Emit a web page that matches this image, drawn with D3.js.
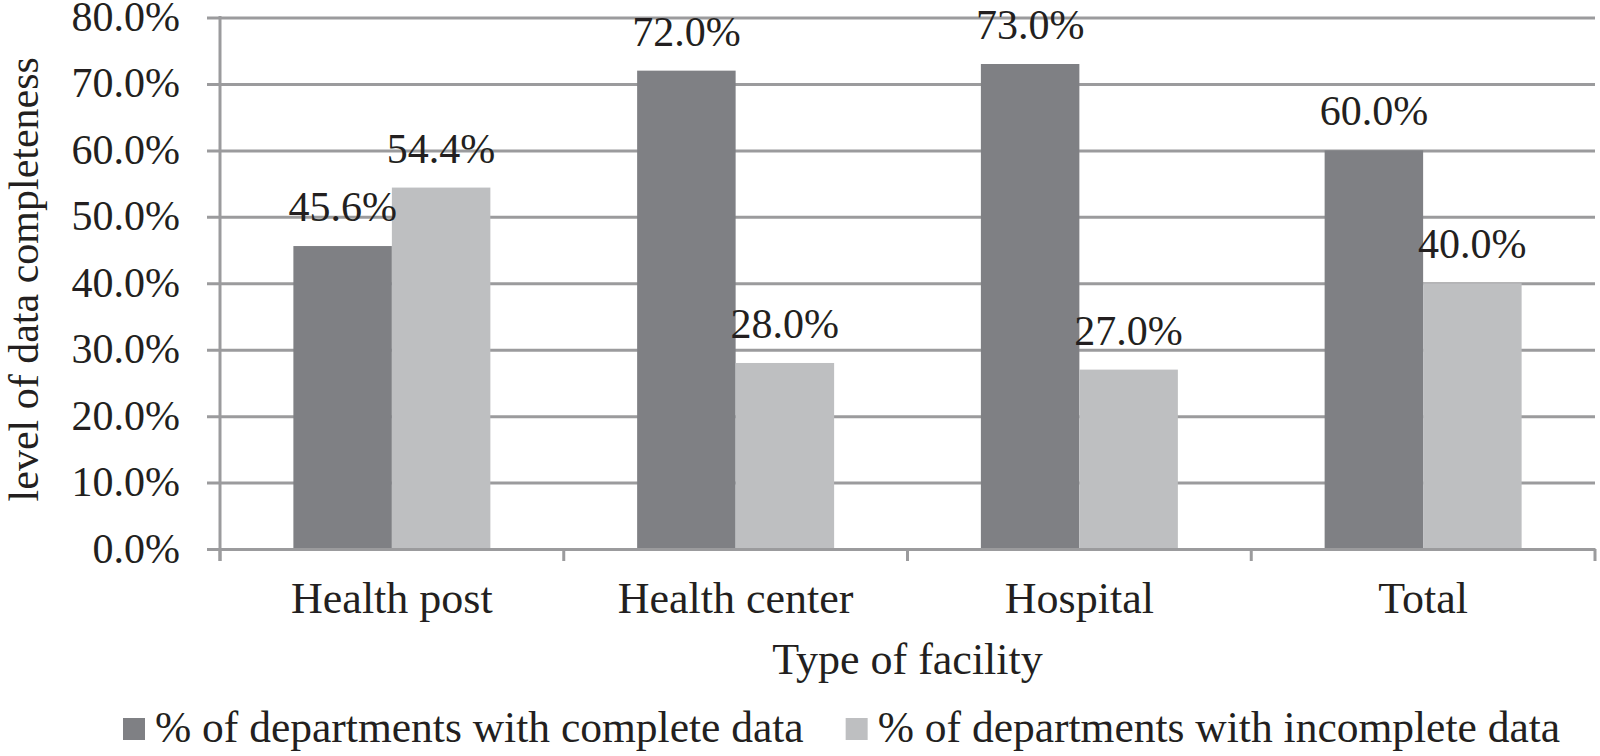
<!DOCTYPE html>
<html>
<head>
<meta charset="utf-8">
<script src="https://cdn.jsdelivr.net/npm/d3@7"></script>
<style>
  html, body { margin: 0; padding: 0; background: #fff; }
  svg { display: block; font-family: "Liberation Serif", "Times New Roman", serif; }
</style>
</head>
<body>
<svg id="chart" width="1600" height="756"></svg>
<script>
// data
const categories = ["Health post", "Health center", "Hospital", "Total"];
const seriesNames = ["% of departments with complete data", "% of departments with incomplete data"];
const completeData = [0.456, 0.72, 0.73, 0.60];
const incompleteData = [0.544, 0.28, 0.27, 0.40];
const yTicks = [0, 0.1, 0.2, 0.3, 0.4, 0.5, 0.6, 0.7, 0.8];

const colors = { complete: "#7f8084", incomplete: "#bebfc1" };
const gridColor = "#9b9b9d";
const textColor = "#231f20";
const numSize = 42;   // tick + data labels
const labelSize = 44; // category, x title
const yTitleSize = 42;
const legendSize = 43.5;

const plot = { left: 220, right: 1595, top: 17.5, bottom: 549 };

const svg = d3.select("#chart");

const x0 = d3.scaleBand()
  .domain(categories)
  .range([plot.left, plot.right])
  .padding(0);

const x1 = d3.scaleBand()
  .domain(["complete", "incomplete"])
  .range([0, x0.bandwidth()])
  .paddingInner(0)
  .paddingOuter(0.745);

const y = d3.scaleLinear()
  .domain([0, 0.8])
  .range([plot.bottom, plot.top]);

const fmt = d3.format(".1%");

// horizontal grid lines + y ticks
const yAxis = svg.append("g")
  .attr("transform", `translate(${plot.left},0)`)
  .call(
    d3.axisLeft(y)
      .tickValues(yTicks)
      .tickSize(-(plot.right - plot.left))
      .tickSizeOuter(0)
      .tickFormat(() => "")
  );
yAxis.select(".domain").remove();
yAxis.selectAll("line")
  .attr("x1", -13)
  .attr("stroke", gridColor)
  .attr("stroke-width", 3);

// y tick labels
svg.append("g")
  .selectAll("text")
  .data(yTicks)
  .join("text")
  .attr("x", 180)
  .attr("y", d => y(d) + 13.5)
  .attr("text-anchor", "end")
  .attr("fill", textColor)
  .style("font-size", numSize + "px")
  .text(d => fmt(d));

// bars
const rows = categories.map((c, i) => ({
  category: c,
  values: [
    { key: "complete", value: completeData[i] },
    { key: "incomplete", value: incompleteData[i] }
  ]
}));

const groups = svg.append("g")
  .selectAll("g")
  .data(rows)
  .join("g")
  .attr("transform", d => `translate(${x0(d.category)},0)`);

groups.selectAll("rect")
  .data(d => d.values)
  .join("rect")
  .attr("x", d => x1(d.key))
  .attr("y", d => y(d.value))
  .attr("width", x1.bandwidth())
  .attr("height", d => y(0) - y(d.value))
  .attr("fill", d => colors[d.key]);

// data labels
groups.selectAll("text")
  .data(d => d.values)
  .join("text")
  .attr("x", d => x1(d.key) + x1.bandwidth() / 2)
  .attr("y", d => y(d.value) - 25)
  .attr("text-anchor", "middle")
  .attr("fill", textColor)
  .style("font-size", numSize + "px")
  .text(d => fmt(d.value));

// y axis line
svg.append("line")
  .attr("x1", plot.left).attr("x2", plot.left)
  .attr("y1", plot.top - 1.5).attr("y2", plot.bottom + 12)
  .attr("stroke", gridColor)
  .attr("stroke-width", 3);

// x axis
const xAxis = svg.append("g")
  .attr("transform", `translate(0,${plot.bottom})`)
  .call(
    d3.axisBottom(x0)
      .tickValues([])
      .tickSizeOuter(0)
  );
xAxis.select(".domain")
  .attr("stroke", gridColor)
  .attr("stroke-width", 3);

// category boundary ticks
const bounds = categories.map(c => x0(c)).concat([plot.right]);
svg.append("g")
  .selectAll("line")
  .data(bounds)
  .join("line")
  .attr("x1", d => d).attr("x2", d => d)
  .attr("y1", plot.bottom).attr("y2", plot.bottom + 12)
  .attr("stroke", gridColor)
  .attr("stroke-width", 3);

// category labels
svg.append("g")
  .selectAll("text")
  .data(categories)
  .join("text")
  .attr("x", d => x0(d) + x0.bandwidth() / 2)
  .attr("y", 613)
  .attr("text-anchor", "middle")
  .attr("fill", textColor)
  .style("font-size", labelSize + "px")
  .text(d => d);

// axis titles
svg.append("text")
  .attr("x", (plot.left + plot.right) / 2)
  .attr("y", 674)
  .attr("text-anchor", "middle")
  .attr("fill", textColor)
  .style("font-size", labelSize + "px")
  .text("Type of facility");

svg.append("text")
  .attr("transform", `translate(38,${(plot.top + plot.bottom) / 2 - 4}) rotate(-90)`)
  .attr("text-anchor", "middle")
  .attr("fill", textColor)
  .style("font-size", yTitleSize + "px")
  .text("level of data completeness");

// legend
const legend = svg.append("g").attr("transform", "translate(123,718)");
let lx = 0;
["complete", "incomplete"].forEach((key, i) => {
  const item = legend.append("g").attr("transform", `translate(${lx},0)`);
  item.append("rect")
    .attr("width", 22)
    .attr("height", 22)
    .attr("fill", colors[key]);
  const t = item.append("text")
    .attr("x", 32)
    .attr("y", 24)
    .attr("fill", textColor)
    .style("font-size", legendSize + "px")
    .text(seriesNames[i]);
  lx += 32 + t.node().getComputedTextLength() + 42;
});
</script>
</body>
</html>
